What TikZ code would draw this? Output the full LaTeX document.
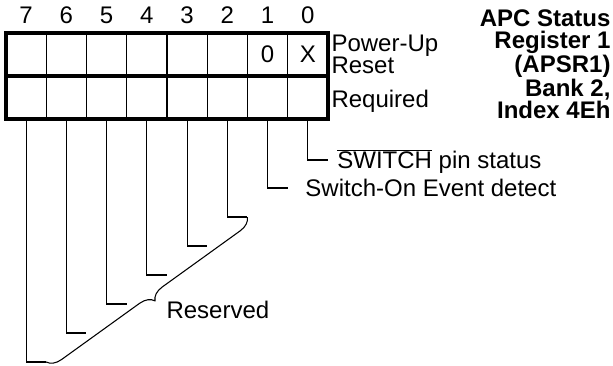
\documentclass[tikz,border=0pt]{standalone}
\usepackage{fontspec}
\setmainfont{Liberation Sans}
\usetikzlibrary{decorations.pathreplacing, positioning}
\tikzset{
  every picture/.style={line width=0.75pt},
  cell/.style={draw, line width=0.9pt, minimum width=30.19pt, minimum height=32.25pt, inner sep=0pt, outer sep=0pt, font=\fontsize{18}{21}\selectfont},
  frame/.style={line width=2.6pt},
  leader/.style={draw, line width=0.8pt},
  brace/.style={leader, decorate, decoration={brace, amplitude=10.5pt}},
  tag/.style={font=\fontsize{18}{16.5}\selectfont, inner sep=0pt, align=left},
  title/.style={font=\fontsize{18}{16.5}\selectfont\bfseries, inner sep=0pt, align=right},
}
\begin{document}
\begin{tikzpicture}[x=0.75pt, y=-0.75pt]
  \useasboundingbox (0,0) rectangle (613,365);
  % register cells, bit 7 on the left
  \foreach \b/\v in {0/X,1/0,2/{},3/{},4/{},5/{},6/{},7/{}} {
    \node[cell] (t\b) at ({307.9-40.25*\b},54.5) {\v};
    \node[cell] (r\b) at ({307.9-40.25*\b},97.5) {};
    \node[tag] (n\b) at ({307.9-40.25*\b},15) {\b};
  }
  \draw[frame] (t7.north west) rectangle (r0.south east);
  \draw[frame] (t7.south west) -- (t0.south east);
  \node[tag, anchor=west] (pu) at (331,54) {Power-Up\\Reset};
  \node[tag, anchor=west] (rq) at (331,101) {Required};
  \node[title, anchor=east] (ttl) at (611,64) {APC Status\\Register 1\\(APSR1)\\Bank 2,\\Index 4Eh};
  % leaders from the bits
  \foreach \b/\d in {0/160,1/188,2/217,3/246,4/275,5/304,6/333,7/362} {
    \coordinate (s\b) at ({327.9-40.25*\b},\d);
    \draw[leader] (r\b.south) |- (s\b);
  }
  \node[tag, text height=14pt, text depth=1.1pt, right=6.75pt of s0] (swp) {$\overline{\hbox{SWITCH}}$ pin status};
  \node[tag, text height=14pt, text depth=1.1pt, right=13pt of s1] (sod) {Switch-On Event detect};
  \draw[brace] (s2) -- (s7);
  \node[tag, anchor=west] (rsv) at (166,310) {Reserved};
\end{tikzpicture}
\end{document}
